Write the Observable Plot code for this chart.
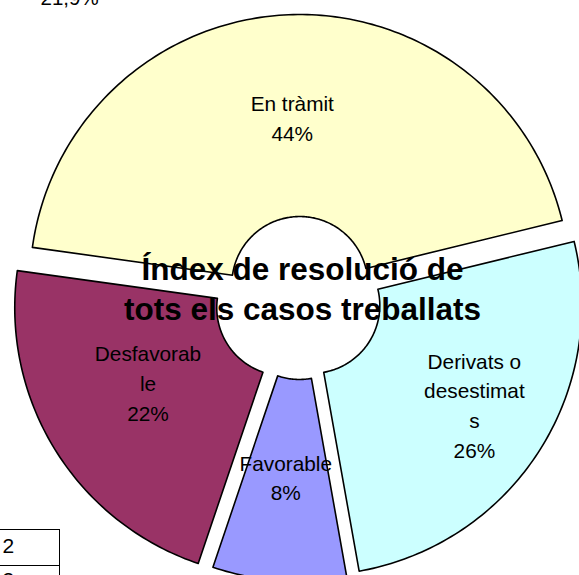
<!DOCTYPE html>
<html><head><meta charset="utf-8">
<script src="https://cdn.jsdelivr.net/npm/d3@7"></script>
<script src="https://cdn.jsdelivr.net/npm/@observablehq/plot@0.6"></script>
<style>
body{margin:0;background:#fff;}
#wrap{position:relative;width:579px;height:575px;overflow:hidden;font-family:"Liberation Sans",Arial,sans-serif;}
#wrap svg{position:absolute;left:0;top:0;}
.cell{position:absolute;box-sizing:border-box;left:-3px;width:63px;height:37.5px;border:1.5px solid #000;padding-left:4.5px;font-size:21px;line-height:27px;color:#000;background:#fff;}
</style></head><body><div id="wrap"></div>
<script>
// ---- data ----
const categories = ["En tràmit", "Derivats o desestimats", "Favorable", "Desfavorable"];
const values = [44, 26, 8, 22];
const colors = ["#FFFFCC", "#CCFFFF", "#9999FF", "#993366"];
const title = "Índex de resolució de\ntots els casos treballats";
const strayLabel = "21,9%";
const cellValues = ["2", "3"];

// ---- layout ----
const W = 579, H = 575, CX = 300, CY = 297.5;
const R = 270, R0 = 68, START_DEG = -82.1;
const explode = [13.5, 13.5, 13.5, 18.5];
const LABEL_R = 169, WRAP = 10;
const labelNudge = [[1, 1], [21, 6], [-1, -4], [7, -15]]; // screen px (right, down)

const a0 = START_DEG * Math.PI / 180;
const arcs = d3.pie().sort(null).startAngle(a0).endAngle(a0 + 2 * Math.PI)(values);
const total = d3.sum(values);

function wrap(s) {
  const out = [];
  let line = "";
  for (const w of s.split(" ")) {
    const cand = line ? line + " " + w : w;
    if (cand.length <= WRAP) { line = cand; continue; }
    if (line) out.push(line);
    let rest = w;
    while (rest.length > WRAP) { out.push(rest.slice(0, WRAP)); rest = rest.slice(WRAP); }
    line = rest;
  }
  if (line) out.push(line);
  return out.join("\n");
}

// polygons (y up)
const poly = [];
const labels = [];
arcs.forEach((a, i) => {
  const mid = (a.startAngle + a.endAngle) / 2;
  const ox = explode[i] * Math.sin(mid), oy = explode[i] * Math.cos(mid);
  const n = Math.max(8, Math.ceil((a.endAngle - a.startAngle) * 180 / Math.PI));
  const pts = [];
  for (let k = 0; k <= n; k++) {
    const t = a.startAngle + (a.endAngle - a.startAngle) * k / n;
    pts.push([ox + R * Math.sin(t), oy + R * Math.cos(t)]);
  }
  for (let k = n; k >= 0; k--) {
    const t = a.startAngle + (a.endAngle - a.startAngle) * k / n;
    pts.push([ox + R0 * Math.sin(t), oy + R0 * Math.cos(t)]);
  }
  pts.push(pts[0]);
  pts.forEach(p => poly.push({cat: categories[i], x: p[0], y: p[1]}));
  labels.push({
    x: ox + LABEL_R * Math.sin(mid) + labelNudge[i][0],
    y: oy + LABEL_R * Math.cos(mid) - labelNudge[i][1],
    text: wrap(categories[i]) + "\n" + Math.round(values[i] / total * 100) + "%"
  });
});

const font = "'Liberation Sans', Arial, sans-serif";
const chart = Plot.plot({
  width: W, height: H, margin: 0,
  style: {background: "transparent", fontFamily: font, overflow: "hidden"},
  x: {domain: [-CX, W - CX], axis: null},
  y: {domain: [-(H - CY), CY], axis: null},
  color: {domain: categories, range: colors},
  marks: [
    Plot.line(poly, {x: "x", y: "y", z: "cat", fill: "cat", stroke: "#000", strokeWidth: 1.6, curve: "linear"}),
    Plot.text(labels, {x: "x", y: "y", text: "text", fontSize: 20.8, lineHeight: 1.43, fill: "#000", fontFamily: font}),
    Plot.text([title], {frameAnchor: "top", dx: 12.5, dy: 287, lineAnchor: "middle", textAnchor: "middle", fontSize: 31.5, fontWeight: "bold", lineHeight: 1.27, fill: "#000", fontFamily: font}),
    Plot.text([strayLabel], {frameAnchor: "top-left", dx: 40, dy: -1.6, lineAnchor: "middle", textAnchor: "start", fontSize: 20.5, fill: "#000", fontFamily: font})
  ]
});
const wrapEl = document.getElementById("wrap");
wrapEl.appendChild(chart);
cellValues.forEach((v, i) => {
  const d = document.createElement("div");
  d.className = "cell";
  d.style.top = (528.5 + i * 36) + "px";
  d.style.lineHeight = (i === 0 ? 31 : 27) + "px";
  d.textContent = v;
  wrapEl.appendChild(d);
});
</script>
</body></html>
